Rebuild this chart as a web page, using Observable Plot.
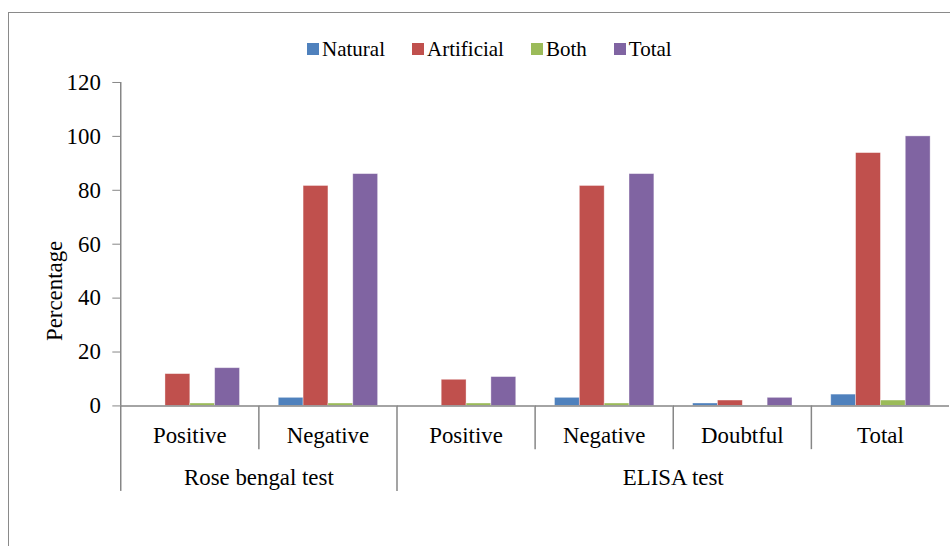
<!DOCTYPE html>
<html>
<head>
<meta charset="utf-8">
<script src="https://cdn.jsdelivr.net/npm/d3@7"></script>
<script src="https://cdn.jsdelivr.net/npm/@observablehq/plot@0.6"></script>
<style>
html, body { margin: 0; padding: 0; background: #fff; width: 950px; height: 546px; overflow: hidden; }
#wrap { position: relative; width: 950px; height: 546px; overflow: hidden; font-family: "Liberation Serif", "Times New Roman", serif; }
#border { position: absolute; left: 8px; top: 12px; width: 1100px; height: 700px; border: 1px solid #8a8a8a; box-sizing: border-box; }
#chart { position: absolute; left: 0; top: 0; }
#legend { position: absolute; left: 307px; top: 37px; display: flex; align-items: center; gap: 27px; font-size: 21px; line-height: 24px; color: #000; white-space: nowrap; }
#legend .item { display: flex; align-items: center; gap: 3px; }
#legend .sw { width: 12px; height: 12px; display: inline-block; }
</style>
</head>
<body>
<div id="wrap">
  <div id="border"></div>
  <div id="chart"></div>
  <div id="legend"></div>
</div>
<script>
// ---- data ----
const categories = ["Positive", "Negative", "Positive", "Negative", "Doubtful", "Total"];
const groups = ["Rose bengal test", "Rose bengal test", "ELISA test", "ELISA test", "ELISA test", "ELISA test"];
const groupNames = ["Rose bengal test", "ELISA test"];
const series = ["Natural", "Artificial", "Both", "Total"];
const natural    = [0,    3,    0,    3,    0.9, 4.2];
const artificial = [11.8, 81.6, 9.7,  81.6, 2,   93.8];
const both       = [0.9,  0.9,  0.9,  0.9,  0,   2];
const total      = [14,   86,   10.7, 86,   3,   100];
const yTicks = [0, 20, 40, 60, 80, 100, 120];
const colors = ["#4F81BD", "#C0504D", "#9BBB59", "#8064A2"];

const FONT = '"Liberation Serif", "Times New Roman", serif';
const AXIS = "#868686";

const values = [natural, artificial, both, total];
const cats = categories.map((c, i) => ({ key: groups[i] + "|" + i, label: c, group: groups[i], index: i }));
const keys = cats.map(d => d.key);
const rows = [];
cats.forEach((c, i) => series.forEach((s, j) => rows.push({ key: c.key, series: s, value: values[j][i] })));

// group label anchored at the facet whose left edge is the group's centre
const groupLabels = groupNames.map(g => {
  const idx = cats.filter(c => c.group === g).map(c => c.index);
  const mid = idx[0] + idx.length / 2;
  return { text: g, key: keys[mid] };
});

const chart = Plot.plot({
  width: 956,
  height: 546,
  marginTop: 82.5,
  marginBottom: 138,
  marginLeft: 120,
  marginRight: 0,
  style: { fontFamily: FONT, fontSize: "23px", background: "transparent", overflow: "visible", color: "#000" },
  fx: { domain: keys, padding: 0, axis: null },
  x: { domain: series, paddingInner: 0, paddingOuter: 0.75, axis: null },
  y: { domain: [0, 120] },
  color: { domain: series, range: colors },
  marks: [
    Plot.barY(rows, { fx: "key", x: "series", y: "value", fill: "series", stroke: "#fff", strokeOpacity: 0.45, strokeWidth: 0.8 }),
    Plot.ruleY([0], { stroke: AXIS, strokeWidth: 1.5 }),
    Plot.axisY({ ticks: yTicks, tickSize: 8, tickPadding: 12, stroke: AXIS, fill: "#000", fontSize: 23, label: null }),
    Plot.text(cats, { fx: "key", text: "label", frameAnchor: "bottom", textAnchor: "middle", lineAnchor: "middle", dy: 30, fontSize: 23 }),
    Plot.text(groupLabels, { fx: "key", text: "text", frameAnchor: "bottom-left", textAnchor: "middle", lineAnchor: "middle", dy: 72, fontSize: 23 }),
    Plot.text(["Percentage"], { fx: () => keys[0], text: d => d, frameAnchor: "left", rotate: -90, textAnchor: "middle", lineAnchor: "middle", dx: -66, dy: 47, fontSize: 23 })
  ]
});
document.getElementById("chart").appendChild(chart);

// axis line and category separators, positioned with Plot's own scales
const fx = chart.scale("fx");
const y = chart.scale("y");
const svg = d3.select(chart);
const g = svg.append("g").attr("stroke", AXIS).attr("stroke-width", 1.5);
const y0 = y.apply(0);
const snap = v => Math.round(v) + 0.5;
// y axis line
g.append("line").attr("x1", snap(fx.apply(keys[0]))).attr("x2", snap(fx.apply(keys[0])))
  .attr("y1", y.apply(120)).attr("y2", y0);
cats.forEach((c, i) => {
  const x = snap(fx.apply(c.key));
  const groupStart = i === 0 || groups[i] !== groups[i - 1];
  g.append("line").attr("x1", x).attr("x2", x).attr("y1", y0).attr("y2", y0 + (groupStart ? 86 : 44));
});

// legend
const legend = d3.select("#legend");
series.forEach((s, i) => {
  const it = legend.append("div").attr("class", "item");
  it.append("span").attr("class", "sw").style("background", colors[i]);
  it.append("span").text(s);
});
</script>
</body>
</html>
